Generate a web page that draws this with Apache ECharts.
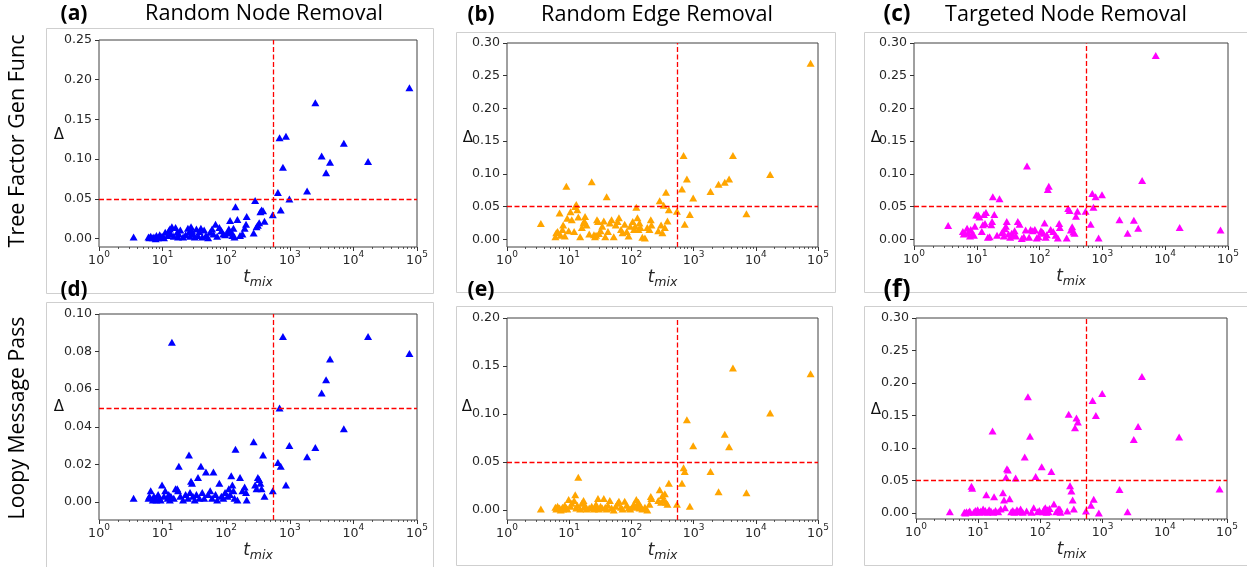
<!DOCTYPE html>
<html><head><meta charset="utf-8">
<script src="https://cdn.jsdelivr.net/npm/echarts@6/dist/echarts.min.js"></script>
<style>html,body{margin:0;padding:0;background:#fff}#c{width:1247px;height:567px}</style>
</head><body><div id="c"></div>
<script>
// ---------- DATA ----------
const tmix = [3.5, 6.0, 6.2, 6.5, 7.0, 7.3, 7.8, 8.0, 8.5, 9.0,
  9.3, 9.8, 10.5, 11, 12, 12.5, 13, 13.5, 14, 15,
  16, 17, 17.5, 18, 19, 21, 23, 25, 26, 27,
  28, 29, 30, 32, 34, 36, 38, 40, 42, 45,
  48, 52, 56, 60, 63, 68, 72, 78, 84, 90,
  96, 105, 110, 115, 120, 125, 130, 135, 140, 150,
  165, 180, 195, 205, 210, 270, 285, 300, 315, 330,
  345, 360, 380, 400, 540, 650, 690, 720, 780, 870,
  985, 1870, 2520, 3170, 3720, 4290, 7070, 17000, 76000];

const deltaA = [0.002, 0.002, 0.001, 0.003, 0.001, 0.002, 0.000, 0.004, 0.001, 0.005,
  0.002, 0.003, 0.001, 0.008, 0.004, 0.010, 0.012, 0.006, 0.015, 0.003,
  0.014, 0.008, 0.002, 0.006, 0.011, 0.002, 0.005, 0.013, 0.008, 0.003,
  0.015, 0.010, 0.006, 0.002, 0.012, 0.004, 0.009, 0.013, 0.002, 0.011,
  0.004, 0.001, 0.008, 0.012, 0.006, 0.018, 0.003, 0.014, 0.010, 0.006,
  0.005, 0.007, 0.012, 0.023, 0.009, 0.004, 0.013, 0.002, 0.040, 0.024,
  0.004, 0.006, 0.013, 0.018, 0.028, 0.007, 0.048, 0.015, 0.017, 0.020,
  0.034, 0.036, 0.035, 0.022, 0.030, 0.058, 0.127, 0.036, 0.090, 0.129,
  0.050, 0.060, 0.171, 0.104, 0.083, 0.096, 0.120, 0.097, 0.190];

const deltaB = [0.024, 0.004, 0.010, 0.012, 0.040, 0.006, 0.015, 0.022, 0.005, 0.081,
  0.032, 0.013, 0.042, 0.030, 0.012, 0.050, 0.053, 0.045, 0.034, 0.004,
  0.018, 0.025, 0.028, 0.035, 0.022, 0.008, 0.088, 0.007, 0.004, 0.006,
  0.030, 0.027, 0.009, 0.013, 0.020, 0.028, 0.004, 0.065, 0.012, 0.025,
  0.030, 0.004, 0.022, 0.027, 0.033, 0.015, 0.010, 0.023, 0.012, 0.005,
  0.020, 0.027, 0.015, 0.020, 0.049, 0.033, 0.015, 0.025, 0.018, 0.003,
  0.002, 0.018, 0.015, 0.030, 0.022, 0.013, 0.059, 0.022, 0.010, 0.052,
  0.018, 0.072, 0.028, 0.045, 0.043, 0.077, 0.128, 0.023, 0.092, 0.038,
  0.063, 0.073, 0.084, 0.087, 0.092, 0.128, 0.039, 0.099, 0.269];

const deltaC = [0.021, 0.012, 0.008, 0.009, 0.017, 0.010, 0.005, 0.015, 0.008, 0.006,
  0.020, 0.037, 0.037, 0.034, 0.012, 0.022, 0.038, 0.024, 0.041, 0.003,
  0.004, 0.022, 0.027, 0.065, 0.038, 0.006, 0.062, 0.010, 0.011, 0.005,
  0.016, 0.020, 0.027, 0.008, 0.003, 0.009, 0.006, 0.013, 0.005, 0.027,
  0.023, 0.001, 0.004, 0.014, 0.112, 0.003, 0.015, 0.013, 0.015, 0.002,
  0.004, 0.013, 0.011, 0.009, 0.025, 0.003, 0.007, 0.076, 0.081, 0.015,
  0.012, 0.006, 0.002, 0.024, 0.018, 0.002, 0.047, 0.044, 0.014, 0.019,
  0.011, 0.009, 0.035, 0.043, 0.043, 0.023, 0.070, 0.049, 0.065, 0.002,
  0.068, 0.030, 0.009, 0.029, 0.017, 0.090, 0.281, 0.018, 0.014];

const deltaD = [0.002, 0.002, 0.003, 0.006, 0.001, 0.003, 0.002, 0.001, 0.004, 0.002,
  0.001, 0.009, 0.003, 0.006, 0.002, 0.004, 0.001, 0.003, 0.085, 0.002,
  0.007, 0.007, 0.006, 0.019, 0.003, 0.001, 0.004, 0.002, 0.025, 0.005,
  0.011, 0.010, 0.003, 0.001, 0.004, 0.013, 0.002, 0.019, 0.005, 0.002,
  0.016, 0.004, 0.006, 0.002, 0.016, 0.004, 0.001, 0.010, 0.003, 0.002,
  0.005, 0.003, 0.007, 0.004, 0.014, 0.009, 0.006, 0.002, 0.028, 0.001,
  0.013, 0.006, 0.008, 0.005, 0.001, 0.032, 0.009, 0.007, 0.013, 0.012,
  0.010, 0.007, 0.025, 0.003, 0.006, 0.021, 0.050, 0.019, 0.088, 0.009,
  0.030, 0.024, 0.029, 0.058, 0.065, 0.076, 0.039, 0.088, 0.079];

const deltaE = [0.001, 0.003, 0.001, 0.004, 0.002, 0.000, 0.003, 0.001, 0.005, 0.002,
  0.001, 0.011, 0.004, 0.007, 0.010, 0.016, 0.002, 0.005, 0.034, 0.001,
  0.007, 0.010, 0.003, 0.005, 0.001, 0.002, 0.004, 0.001, 0.003, 0.006,
  0.002, 0.012, 0.001, 0.004, 0.002, 0.012, 0.003, 0.001, 0.005, 0.010,
  0.002, 0.000, 0.004, 0.007, 0.009, 0.003, 0.001, 0.009, 0.005, 0.002,
  0.001, 0.004, 0.006, 0.003, 0.011, 0.005, 0.008, 0.002, 0.004, 0.001,
  0.003, 0.000, 0.006, 0.014, 0.012, 0.010, 0.021, 0.008, 0.015, 0.011,
  0.017, 0.008, 0.006, 0.028, 0.006, 0.028, 0.044, 0.040, 0.094, 0.004,
  0.067, 0.040, 0.019, 0.079, 0.066, 0.148, 0.018, 0.101, 0.142];

const deltaF = [0.002, 0.001, 0.000, 0.002, 0.001, 0.003, 0.041, 0.038, 0.001, 0.004,
  0.002, 0.005, 0.001, 0.003, 0.006, 0.002, 0.004, 0.028, 0.001, 0.005,
  0.003, 0.126, 0.001, 0.025, 0.004, 0.002, 0.006, 0.031, 0.020, 0.008,
  0.055, 0.068, 0.066, 0.022, 0.002, 0.004, 0.001, 0.054, 0.005, 0.002,
  0.006, 0.001, 0.086, 0.003, 0.179, 0.118, 0.001, 0.008, 0.056, 0.002,
  0.004, 0.071, 0.002, 0.006, 0.008, 0.001, 0.005, 0.002, 0.007, 0.064,
  0.014, 0.002, 0.006, 0.006, 0.001, 0.003, 0.152, 0.042, 0.034, 0.020,
  0.006, 0.131, 0.146, 0.140, 0.003, 0.012, 0.173, 0.021, 0.150, 0.000,
  0.184, 0.036, 0.002, 0.113, 0.133, 0.210, null, 0.117, 0.037];

const xMajorTicks = [1, 10, 100, 1000, 10000, 100000];
const xTickExponents = ['0', '1', '2', '3', '4', '5'];
const xMinorTicks = [2,3,4,5,6,7,8,9,20,30,40,50,60,70,80,90,200,300,400,500,600,700,800,900,
  2000,3000,4000,5000,6000,7000,8000,9000,20000,30000,40000,50000,60000,70000,80000,90000];
const yTicksA = [0, 0.05, 0.10, 0.15, 0.20, 0.25];
const yTicksB = [0, 0.05, 0.10, 0.15, 0.20, 0.25, 0.30];
const yTicksC = [0, 0.05, 0.10, 0.15, 0.20, 0.25, 0.30];
const yTicksD = [0, 0.02, 0.04, 0.06, 0.08, 0.10];
const yTicksE = [0, 0.05, 0.10, 0.15, 0.20];
const yTicksF = [0, 0.05, 0.10, 0.15, 0.20, 0.25, 0.30];
const tmixThreshold = 550;
const deltaThreshold = 0.05;
const columnTitles = ['Random Node Removal', 'Random Edge Removal', 'Targeted Node Removal'];
const panelLetters = ['(a)', '(b)', '(c)', '(d)', '(e)', '(f)'];
const rowLabels = ['Tree Factor Gen Func', 'Loopy Message Pass'];

// ---------- LAYOUT ----------
const panels = [
  {d: deltaA, ticks: yTicksA, color: '#0000ff', grid: {left: 99, top: 40, width: 318, height: 207}, yMin: -0.0105, yMax: 0.25, dPos: [59, 135], box: [46, 28, 387, 265], lab: [74, 14]},
  {d: deltaB, ticks: yTicksB, color: '#ffa500', grid: {left: 507, top: 43, width: 311, height: 204}, yMin: -0.0118, yMax: 0.30, dPos: [468, 138], box: [456, 32, 379, 260], lab: [481, 15]},
  {d: deltaC, ticks: yTicksC, color: '#ff00ff', grid: {left: 914, top: 43, width: 314, height: 203}, yMin: -0.0103, yMax: 0.30, dPos: [876, 138], box: [864, 32, 400, 260], lab: [897, 15]},
  {d: deltaD, ticks: yTicksD, color: '#0000ff', grid: {left: 99, top: 314, width: 318, height: 206}, yMin: -0.0096, yMax: 0.10, dPos: [59, 407], box: [46, 302, 387, 280], lab: [74, 290]},
  {d: deltaE, ticks: yTicksE, color: '#ffa500', grid: {left: 507, top: 318, width: 311, height: 202}, yMin: -0.0104, yMax: 0.20, dPos: [467, 407], box: [456, 306, 376, 259], lab: [481, 290]},
  {d: deltaF, ticks: yTicksF, color: '#ff00ff', grid: {left: 916, top: 318, width: 311, height: 201}, yMin: -0.0092, yMax: 0.30, dPos: [876, 410], box: [864, 306, 400, 259], lab: [897, 290]}
];
const titlePos = [[264, 14, 238], [657, 15, 232], [1066, 15, 242]];
const rowPos = [[18, 141, 213], [18, 418, 203]];

function fitFont(text, family, weight, targetW) {
  const ctx = document.createElement('canvas').getContext('2d');
  ctx.font = weight + ' 100px "' + family + '"';
  return 100 * targetW / ctx.measureText(text).width;
}

const TF = 'DejaVu Sans';
const tickColor = '#262626';
const option = {
  animation: false,
  backgroundColor: '#fff',
  grid: [], xAxis: [], yAxis: [], series: [], graphic: []
};

panels.forEach((p, i) => {
  option.grid.push(Object.assign({show: true, borderColor: '#404040', borderWidth: 1, backgroundColor: 'transparent', containLabel: false, outerBoundsMode: 'none'}, p.grid));
  option.xAxis.push({
    type: 'log', logBase: 10, gridIndex: i, min: 1, max: 100000, position: 'bottom',
    axisLine: {show: false, onZero: false},
    splitLine: {show: false},
    axisTick: {show: true, length: 4, lineStyle: {color: '#333', width: 1}, customValues: xMajorTicks},
    axisLabel: {show: true, margin: 3, color: tickColor, customValues: xMajorTicks,
      formatter: v => '{b|10}{s|' + xTickExponents[Math.round(Math.log10(v))] + '}',
      rich: {
        b: {fontFamily: TF, fontSize: 12.6, color: tickColor, verticalAlign: 'bottom', lineHeight: 17},
        s: {fontFamily: TF, fontSize: 9, color: tickColor, verticalAlign: 'top', lineHeight: 10}
      }},
    name: '{t|t}{m|mix}', nameLocation: 'middle', nameGap: 22, nameMoveOverlap: false,
    nameTextStyle: {rich: {
      t: {fontSize: 17, fontStyle: 'italic', fontFamily: TF, color: tickColor, verticalAlign: 'top', lineHeight: 20},
      m: {fontSize: 12.5, fontStyle: 'italic', fontFamily: TF, color: tickColor, verticalAlign: 'bottom', lineHeight: 13}
    }}
  });
  option.xAxis.push({
    type: 'log', logBase: 10, gridIndex: i, min: 1, max: 100000, position: 'bottom', offset: 0,
    axisLine: {show: false, onZero: false}, splitLine: {show: false}, axisLabel: {show: false},
    axisTick: {show: true, length: 2, lineStyle: {color: '#333', width: 0.8}, customValues: xMinorTicks}
  });
  option.yAxis.push({
    type: 'value', gridIndex: i, min: p.yMin, max: p.yMax,
    axisLine: {show: false, onZero: false}, splitLine: {show: false},
    axisTick: {show: true, length: 4, lineStyle: {color: '#333', width: 1}, customValues: p.ticks},
    axisLabel: {show: true, margin: 7, fontFamily: TF, fontSize: 12.6, color: tickColor, customValues: p.ticks,
      formatter: v => v.toFixed(2)}
  });
  const pts = [];
  tmix.forEach((t, k) => { if (p.d[k] !== null && p.d[k] !== undefined) pts.push([t, p.d[k]]); });
  option.series.push({
    type: 'scatter', xAxisIndex: 2 * i, yAxisIndex: i, data: pts,
    symbol: 'triangle', symbolSize: [8, 7],
    itemStyle: {color: p.color, opacity: 1},
    markLine: {
      silent: true, symbol: ['none', 'none'], label: {show: false}, animation: false,
      lineStyle: {color: '#ff0000', type: [5, 2.5], width: 1.3, opacity: 1},
      emphasis: {disabled: true},
      data: [{xAxis: tmixThreshold}, {yAxis: deltaThreshold}]
    }
  });
  option.graphic.push({type: 'rect', z: -10, silent: true,
    shape: {x: p.box[0] + 0.5, y: p.box[1] + 0.5, width: p.box[2], height: p.box[3]},
    style: {fill: 'none', stroke: '#cfcfcf', lineWidth: 1}});
  option.graphic.push({type: 'text', z: 10, silent: true, x: p.dPos[0], y: p.dPos[1],
    style: {text: 'Δ', fontFamily: TF, fontSize: 15, fill: '#111', align: 'center', verticalAlign: 'middle'}});
  const lf = fitFont(panelLetters[i], 'Open Sans', 'bold', 27);
  option.graphic.push({type: 'text', z: 10, silent: true, x: p.lab[0], y: p.lab[1],
    style: {text: panelLetters[i], fontFamily: 'Open Sans', fontWeight: 'bold', fontSize: lf, fill: '#000', align: 'center', verticalAlign: 'middle'}});
});

columnTitles.forEach((t, j) => {
  const f = fitFont(t, 'Open Sans', 'normal', titlePos[j][2]);
  option.graphic.push({type: 'text', z: 10, silent: true, x: titlePos[j][0], y: titlePos[j][1],
    style: {text: t, fontFamily: 'Open Sans', fontSize: f, fill: '#000', align: 'center', verticalAlign: 'middle'}});
});
rowLabels.forEach((t, j) => {
  const f = fitFont(t, 'Open Sans', 'normal', rowPos[j][2]);
  option.graphic.push({type: 'text', z: 10, silent: true, x: rowPos[j][0], y: rowPos[j][1], rotation: Math.PI / 2,
    style: {text: t, fontFamily: 'Open Sans', fontSize: f, fill: '#000', align: 'center', verticalAlign: 'middle'}});
});

const chart = echarts.init(document.getElementById('c'), null, {renderer: 'canvas'});
chart.setOption(option);
</script>
</body></html>
